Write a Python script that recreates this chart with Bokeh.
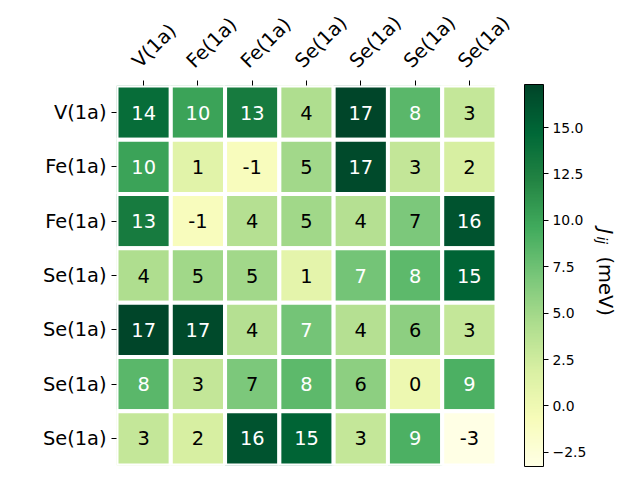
import numpy as np
from bokeh.plotting import figure
from bokeh.models import (ColumnDataSource, Range1d, FixedTicker, LinearColorMapper,
                          ColorBar, Label, CustomJSTickFormatter, LinearAxis,
                          CustomLabelingPolicy)
from bokeh.core.properties import value
from bokeh.embed import file_html
from bokeh.resources import INLINE

# ---------------- data ----------------
row_labels = ["V(1a)", "Fe(1a)", "Fe(1a)", "Se(1a)", "Se(1a)", "Se(1a)", "Se(1a)"]
col_labels = ["V(1a)", "Fe(1a)", "Fe(1a)", "Se(1a)", "Se(1a)", "Se(1a)", "Se(1a)"]

J_row_V1a   = [14.2, 10.1, 13.0, 4.3, 17.32, 8.4, 3.1]
J_row_Fe1a  = [10.1, 1.2, -0.9, 5.0, 16.9, 3.2, 2.0]
J_row_Fe1a2 = [13.0, -0.9, 4.0, 5.1, 4.0, 6.8, 16.2]
J_row_Se1a  = [4.3, 5.1, 5.0, 1.0, 7.2, 8.3, 15.0]
J_row_Se1a2 = [17.32, 16.9, 4.0, 7.2, 4.0, 6.0, 3.1]
J_row_Se1a3 = [8.4, 3.2, 6.8, 8.3, 6.0, 0.2, 9.1]
J_row_Se1a4 = [3.1, 2.0, 16.2, 15.0, 3.1, 9.1, -3.26]

cbar_ticks = [-2.5, 0.0, 2.5, 5.0, 7.5, 10.0, 12.5, 15.0]

# ---------------- build ----------------
rows = [J_row_V1a, J_row_Fe1a, J_row_Fe1a2, J_row_Se1a, J_row_Se1a2, J_row_Se1a3, J_row_Se1a4]
M = np.array(rows, dtype=float)
vmin, vmax = float(M.min()), float(M.max())
thresh = (vmin + vmax) / 2.0

ylgn9 = ["#ffffe5", "#f7fcb9", "#d9f0a3", "#addd8e", "#78c679",
         "#41ab5d", "#238443", "#006837", "#004529"]
rgb = np.array([[int(c[i:i + 2], 16) for i in (1, 3, 5)] for c in ylgn9], dtype=float)
t9 = np.linspace(0, 1, 9)
t256 = np.linspace(0, 1, 256)
palette = ["#%02x%02x%02x" % tuple(int(round(np.interp(t, t9, rgb[:, k]))) for k in range(3))
           for t in t256]

xs, ys, vals, txt, tcol = [], [], [], [], []
for i, r in enumerate(rows):
    for j, v in enumerate(r):
        xs.append(j)
        ys.append(i)
        vals.append(v)
        s = f"{v:.0f}"
        if s == "-0":
            s = "0"
        txt.append(s)
        tcol.append("white" if v > thresh else "black")

src = ColumnDataSource(dict(x=xs, y=ys, v=vals, t=txt, tc=tcol))

W, H = 640, 480
FL, FT, FB = 116, 85, 15
cell_px = 380.0 / len(col_labels)          # heatmap occupies 380 px
frame_w = W - FL                            # frame extends to the right edge
x_end = -0.5 + frame_w / cell_px

p = figure(width=W, height=H, output_backend="svg", toolbar_location=None,
           x_range=Range1d(-0.5, x_end),
           y_range=Range1d(len(row_labels) - 0.5, -0.5),
           x_axis_location="above",
           min_border_left=FL, min_border_right=0, min_border_top=FT, min_border_bottom=FB)
p.outline_line_color = None
p.grid.visible = False
p.background_fill_color = "white"
p.border_fill_color = "white"

mapper = LinearColorMapper(palette=palette, low=vmin, high=vmax)
p.rect(x="x", y="y", width=1, height=1, source=src,
       fill_color={"field": "v", "transform": mapper},
       line_color="white", line_width=4)
p.text(x="x", y="y", text="t", source=src, text_color="tc",
       text_align="center", text_baseline="middle",
       text_font=value("DejaVu Sans"), text_font_size="19.4px")

def style_axis(ax, labels):
    ax.ticker = FixedTicker(ticks=list(range(len(labels))))
    ax.major_label_overrides = {k: lab for k, lab in enumerate(labels)}
    ax.axis_line_color = None
    ax.major_tick_out = 5
    ax.major_tick_in = 0
    ax.minor_tick_line_color = None
    ax.major_tick_line_color = "black"
    ax.major_label_text_font = "DejaVu Sans"
    ax.major_label_text_font_size = "19.4px"
    ax.major_label_text_color = "black"
    ax.major_label_standoff = 5

style_axis(p.yaxis[0], row_labels)

# top axis: ticks only (its labels are dropped by the labeling policy)
tick_ax = p.xaxis[0]
style_axis(tick_ax, col_labels)
tick_ax.major_label_text_font_size = "1px"
tick_ax.major_label_standoff = 0
tick_ax.major_label_policy = CustomLabelingPolicy(
    code="for (const i of indices) { indices.unset(i) }\nreturn indices")

# top axis: rotated labels only (anchored like matplotlib's bottom-left anchor)
d = 8.0 / cell_px
p.extra_x_ranges = {"lab": Range1d(-0.5 + d, x_end + d)}
lab_ax = LinearAxis(x_range_name="lab")
style_axis(lab_ax, col_labels)
lab_ax.major_tick_out = 0
lab_ax.major_tick_line_color = None
lab_ax.major_label_orientation = np.pi / 4
lab_ax.major_label_standoff = 12
p.add_layout(lab_ax, "above")

cb = ColorBar(color_mapper=mapper, ticker=FixedTicker(ticks=cbar_ticks),
              formatter=CustomJSTickFormatter(code="return tick.toFixed(1).replace('-', '\\u2212')"),
              width=19, height=382, padding=0, margin=0,
              major_tick_out=5, major_tick_in=0, major_tick_line_color="black",
              minor_tick_line_color=None,
              major_label_text_font="DejaVu Sans", major_label_text_font_size="13.9px",
              major_label_text_color="black", label_standoff=4,
              bar_line_color="black", bar_line_width=1,
              background_fill_color=None, border_line_color=None,
              location=(524 - FL, -1))
p.add_layout(cb)

# colour-bar label: J_ij (meV), rotated, screen units relative to the frame
bx = 605 - FL
def sy(y):
    return (H - FB) - y
p.add_layout(Label(x=bx, y=sy(228), x_units="screen", y_units="screen", text="J",
                   angle=-np.pi / 2, text_align="left", text_baseline="alphabetic",
                   text_font="DejaVu Sans", text_font_style="italic",
                   text_font_size="19.4px", text_color="black"))
p.add_layout(Label(x=bx - 3.5, y=sy(236), x_units="screen", y_units="screen", text="ij",
                   angle=-np.pi / 2, text_align="left", text_baseline="alphabetic",
                   text_font="DejaVu Sans", text_font_style="italic",
                   text_font_size="13.6px", text_color="black"))
p.add_layout(Label(x=bx, y=sy(256), x_units="screen", y_units="screen", text="(meV)",
                   angle=-np.pi / 2, text_align="left", text_baseline="alphabetic",
                   text_font="DejaVu Sans", text_font_size="19.4px", text_color="black"))

open("out.html", "w").write(file_html(p, INLINE))
